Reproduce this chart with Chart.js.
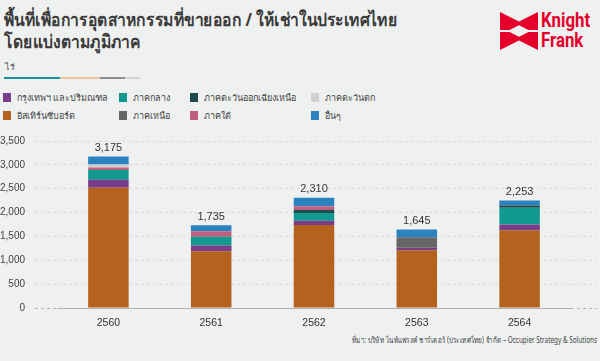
<!DOCTYPE html>
<html><head><meta charset="utf-8">
<script src="https://cdn.jsdelivr.net/npm/chart.js@4"></script>
<style>
html,body{margin:0;padding:0}
body{width:600px;height:361px;background:#eff1f1;overflow:hidden;position:relative;font-family:"Noto Sans","DejaVu Sans",sans-serif;color:#3a3a3a}
.title{position:absolute;left:4px;top:8px;font-size:18px;font-weight:bold;line-height:22px;color:#3a3a3a;white-space:nowrap;transform:scaleX(0.87);transform-origin:0 0}
.unit{position:absolute;left:5px;top:60px;font-size:9px;color:#555}
.rule{position:absolute;top:77px;height:2px}
.logo{position:absolute;left:500px;top:12px;width:38px;height:38px}
.kf{position:absolute;left:541px;top:10px;font-family:"Roboto","Liberation Sans",sans-serif;font-weight:bold;font-size:21px;line-height:20px;color:#e4002b;transform:scaleX(0.8);transform-origin:0 0}
.legend{position:absolute;left:0;top:0}
.li{position:absolute;font-size:9px;color:#444;white-space:nowrap;line-height:11px}
.li i{position:absolute;left:0;top:1px;width:8px;height:9px}
.li span{position:absolute;left:14px;top:0}
.source{position:absolute;right:3px;top:333px;font-size:8.5px;color:#444;white-space:nowrap;transform:scaleX(0.75);transform-origin:100% 0}
#c{position:absolute;left:0;top:125px}
</style></head>
<body>
<div class="title">พื้นที่เพื่อการอุตสาหกรรมที่ขายออก / ให้เช่าในประเทศไทย<br>โดยแบ่งตามภูมิภาค</div>
<div class="unit">ไร่</div>
<div class="rule" style="left:4px;width:56px;background:#1a8fa0"></div>
<div class="rule" style="left:60px;width:40px;background:#e9c79b"></div>
<div class="rule" style="left:100px;width:25px;background:#8e8e8e"></div>
<div class="rule" style="left:125px;width:15px;background:#d4d4d4"></div>
<svg class="logo" viewBox="0 0 40 40">
<polygon points="0,0 20,10 40,0 40,19 30,19 20,14 10,19 0,19" fill="#e4002b"/>
<polygon points="0,21 10,21 20,26 30,21 40,21 40,40 20,30 0,40" fill="#e4002b"/>
</svg>
<div class="kf">Knight<br>Frank</div>
<div class="legend" id="legend"></div>
<canvas id="c" width="600" height="205"></canvas>
<div class="source">ที่มา: บริษัท ไนท์แฟรงค์ ชาร์เตอร์ (ประเทศไทย) จำกัด – Occupier Strategy &amp; Solutions</div>
<script>
const years = ['2560','2561','2562','2563','2564'];
const seriesNames = ['อีสเทิร์นซีบอร์ด','กรุงเทพฯ และปริมณฑล','ภาคกลาง','ภาคเหนือ','ภาคตะวันออกเฉียงเหนือ','ภาคใต้','ภาคตะวันตก','อื่นๆ'];
const easternSeaboard = [2520,1190,1740,1210,1630];
const bangkok = [170,120,90,55,120];
const central = [200,185,160,0,350];
const north = [0,0,0,220,0];
const northeast = [0,0,65,0,50];
const south = [55,115,75,0,0];
const west = [65,0,0,0,0];
const others = [165,125,180,160,103];
const seriesColors = ['#b5621e','#7a3d8a','#11998f','#666666','#1e4c4d','#c0607f','#cfcfcf','#2a82bf'];
const yTickValues = [0,500,1000,1500,2000,2500,3000,3500];

const seriesData = [easternSeaboard,bangkok,central,north,northeast,south,west,others];
const legendOrder = [[1,2,4,6],[0,3,5,7]];
const legendX = [3,119,190,311];
const legendY = [92,110];

const leg = document.getElementById('legend');
legendOrder.forEach((row,r)=>row.forEach((si,c)=>{
  const d=document.createElement('div'); d.className='li';
  d.style.left=legendX[c]+'px'; d.style.top=legendY[r]+'px';
  d.innerHTML='<i style="background:'+seriesColors[si]+'"></i><span>'+seriesNames[si]+'</span>';
  leg.appendChild(d);
}));

const gridColor = ctx => (ctx.tick && ctx.tick.value===0) ? '#b5b5b5' : '#dcdcdc';

const totalsPlugin = {id:'totals', afterDatasetsDraw(chart){
  const ctx=chart.ctx, meta=chart.getDatasetMeta(0), ys=chart.scales.y;
  ctx.save(); ctx.font='11px "Liberation Sans", Arial, sans-serif'; ctx.fillStyle='#333';
  ctx.textAlign='center'; ctx.textBaseline='bottom';
  years.forEach((yr,i)=>{
    const tot=chart.data.datasets.reduce((s,d)=>s+d.data[i],0);
    ctx.fillText(tot.toLocaleString('en-US'), meta.data[i].x, ys.getPixelForValue(tot)-3);
  });
  ctx.restore();
}};

new Chart(document.getElementById('c'), {
  type:'bar',
  data:{labels:years, datasets:seriesNames.map((n,i)=>({label:n,data:seriesData[i],backgroundColor:seriesColors[i],borderWidth:0,barPercentage:0.394,categoryPercentage:1.0,yAxisID:'y'}))},
  plugins:[totalsPlugin],
  options:{
    responsive:false, animation:false, devicePixelRatio:1,
    layout:{padding:{left:0,right:3,top:12,bottom:0}},
    plugins:{legend:{display:false},tooltip:{enabled:false}},
    scales:{
      x:{stacked:true, grid:{display:false}, border:{display:true,color:'#b0b0b0'},
         ticks:{padding:1,color:'#333',font:{family:'"Liberation Sans", Arial, sans-serif',size:10.5}},
         afterFit:s=>{s.height=22;}},
      y:{stacked:true, min:0, max:3500, afterBuildTicks:s=>{s.ticks=yTickValues.map(v=>({value:v}));},
         grid:{color:gridColor, drawTicks:true, tickLength:22, tickBorderDash:[3,3]},
         border:{display:false, dash:[3,3]},
         ticks:{padding:10,color:'#444',font:{family:'"Liberation Sans", Arial, sans-serif',size:10},callback:v=>v.toLocaleString('en-US')},
         afterFit:s=>{s.width=57;}},
      yR:{type:'linear', position:'right', min:0, max:3500, afterBuildTicks:s=>{s.ticks=yTickValues.map(v=>({value:v}));},
         grid:{color:gridColor, drawOnChartArea:false, drawTicks:true, tickLength:26, tickBorderDash:[3,3]},
         border:{display:false}, ticks:{display:false}, afterFit:s=>{s.width=26;}}
    }
  }
});
</script>
</body></html>
